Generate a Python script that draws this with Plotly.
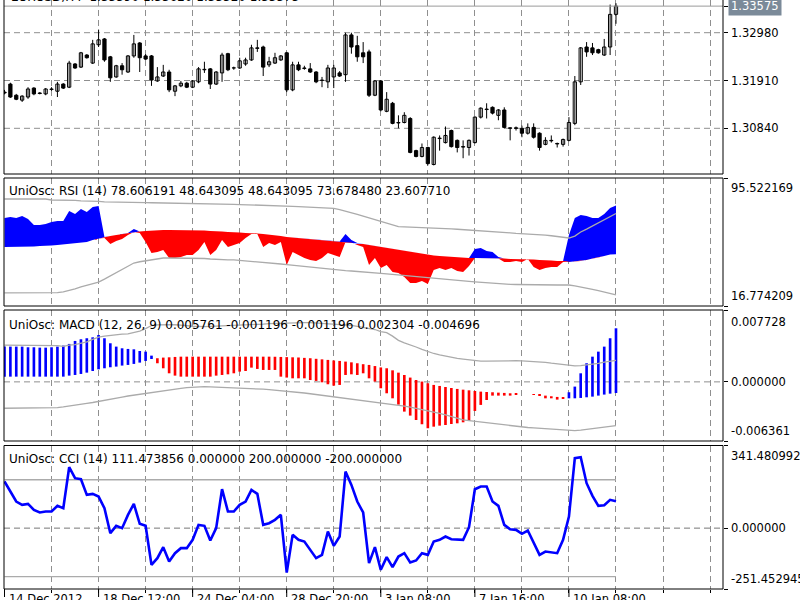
import plotly.graph_objects as go

BARS = list(range(105))

OPEN = [1.3165, 1.3183, 1.3158, 1.3147, 1.3154, 1.3174, 1.3163, 1.3161, 1.3171, 1.3167,
        1.3183, 1.3176, 1.3228, 1.3221, 1.3248, 1.3230, 1.3271, 1.3284, 1.3244, 1.3199,
        1.3224, 1.3210, 1.3246, 1.3275, 1.3246, 1.3246, 1.3190, 1.3201, 1.3210, 1.3167,
        1.3179, 1.3185, 1.3176, 1.3188, 1.3215, 1.3217, 1.3183, 1.3208, 1.3251, 1.3219,
        1.3219, 1.3228, 1.3237, 1.3264, 1.3266, 1.3226, 1.3230, 1.3237, 1.3253, 1.3170,
        1.3226, 1.3219, 1.3217, 1.3210, 1.3192, 1.3188, 1.3199, 1.3208, 1.3204, 1.3293,
        1.3269, 1.3253, 1.3255, 1.3158, 1.3190, 1.3122, 1.3140, 1.3097, 1.3097, 1.3106,
        1.3034, 1.3021, 1.3041, 1.3003, 1.3061, 1.3052, 1.3079, 1.3057, 1.3043, 1.3041,
        1.3052, 1.3109, 1.3127, 1.3131, 1.3113, 1.3125, 1.3085, 1.3085, 1.3084, 1.3073,
        1.3086, 1.3073, 1.3048, 1.3057, 1.3050, 1.3048, 1.3057, 1.3095, 1.3188, 1.3266,
        1.3264, 1.3260, 1.3248, 1.3266, 1.3339]
HIGH = [1.3170, 1.3186, 1.3161, 1.3158, 1.3176, 1.3176, 1.3165, 1.3174, 1.3176, 1.3188,
        1.3185, 1.3235, 1.3230, 1.3255, 1.3250, 1.3282, 1.3305, 1.3286, 1.3246, 1.3226,
        1.3230, 1.3248, 1.3293, 1.3277, 1.3250, 1.3248, 1.3221, 1.3226, 1.3215, 1.3181,
        1.3190, 1.3188, 1.3192, 1.3221, 1.3233, 1.3219, 1.3212, 1.3253, 1.3253, 1.3222,
        1.3242, 1.3242, 1.3271, 1.3282, 1.3269, 1.3244, 1.3253, 1.3248, 1.3255, 1.3233,
        1.3233, 1.3224, 1.3230, 1.3212, 1.3199, 1.3226, 1.3226, 1.3212, 1.3298, 1.3298,
        1.3291, 1.3277, 1.3260, 1.3192, 1.3192, 1.3165, 1.3143, 1.3113, 1.3120, 1.3109,
        1.3036, 1.3050, 1.3043, 1.3066, 1.3068, 1.3088, 1.3081, 1.3059, 1.3057, 1.3059,
        1.3111, 1.3131, 1.3140, 1.3133, 1.3127, 1.3131, 1.3086, 1.3088, 1.3090, 1.3095,
        1.3095, 1.3075, 1.3064, 1.3068, 1.3052, 1.3061, 1.3109, 1.3201, 1.3266, 1.3277,
        1.3275, 1.3262, 1.3284, 1.3361, 1.3364]
LOW = [1.3160, 1.3152, 1.3147, 1.3143, 1.3150, 1.3158, 1.3160, 1.3158, 1.3168, 1.3154,
       1.3172, 1.3174, 1.3217, 1.3219, 1.3240, 1.3228, 1.3266, 1.3233, 1.3188, 1.3197,
       1.3204, 1.3208, 1.3242, 1.3210, 1.3237, 1.3179, 1.3188, 1.3199, 1.3165, 1.3156,
       1.3176, 1.3174, 1.3174, 1.3185, 1.3208, 1.3172, 1.3181, 1.3188, 1.3212, 1.3215,
       1.3217, 1.3224, 1.3235, 1.3255, 1.3201, 1.3221, 1.3228, 1.3235, 1.3165, 1.3167,
       1.3212, 1.3215, 1.3208, 1.3185, 1.3176, 1.3174, 1.3174, 1.3199, 1.3188, 1.3251,
       1.3233, 1.3230, 1.3154, 1.3156, 1.3122, 1.3120, 1.3093, 1.3084, 1.3095, 1.3028,
       1.3019, 1.3019, 1.3001, 1.3001, 1.3034, 1.3050, 1.3041, 1.3030, 1.3017, 1.3023,
       1.3050, 1.3106, 1.3106, 1.3115, 1.3102, 1.3084, 1.3057, 1.3079, 1.3064, 1.3070,
       1.3061, 1.3034, 1.3046, 1.3052, 1.3041, 1.3043, 1.3055, 1.3091, 1.3181, 1.3244,
       1.3248, 1.3251, 1.3246, 1.3248, 1.3318]
CLOSE = [1.3163, 1.3154, 1.3149, 1.3156, 1.3172, 1.3161, 1.3162, 1.3172, 1.3172, 1.3183,
         1.3174, 1.3230, 1.3219, 1.3253, 1.3242, 1.3273, 1.3282, 1.3237, 1.3197, 1.3224,
         1.3215, 1.3246, 1.3273, 1.3242, 1.3239, 1.3192, 1.3199, 1.3210, 1.3170, 1.3179,
         1.3185, 1.3176, 1.3190, 1.3217, 1.3216, 1.3183, 1.3210, 1.3248, 1.3215, 1.3219,
         1.3235, 1.3237, 1.3264, 1.3263, 1.3221, 1.3233, 1.3242, 1.3246, 1.3170, 1.3226,
         1.3215, 1.3218, 1.3210, 1.3188, 1.3191, 1.3219, 1.3219, 1.3201, 1.3293, 1.3266,
         1.3244, 1.3244, 1.3158, 1.3190, 1.3125, 1.3149, 1.3095, 1.3096, 1.3113, 1.3030,
         1.3021, 1.3041, 1.3005, 1.3064, 1.3062, 1.3068, 1.3043, 1.3041, 1.3042, 1.3057,
         1.3109, 1.3129, 1.3126, 1.3118, 1.3125, 1.3086, 1.3084, 1.3084, 1.3073, 1.3086,
         1.3064, 1.3041, 1.3057, 1.3056, 1.3049, 1.3059, 1.3097, 1.3188, 1.3264, 1.3255,
         1.3253, 1.3253, 1.3266, 1.3339, 1.33575]

RSI = [70.9, 71.5, 70.9, 72.1, 70.3, 66.6, 66.6, 67.2, 68.5, 69.1,
       69.1, 75.2, 73.4, 76.5, 74.6, 77.7, 78.3, 58.6, 54.9, 56.8,
       58.0, 60.5, 64.1, 61.7, 56.1, 49.4, 50.0, 51.2, 46.3, 46.3,
       46.9, 48.2, 48.2, 51.2, 56.1, 48.2, 51.2, 57.4, 53.1, 54.3,
       55.5, 58.6, 61.1, 61.1, 53.1, 55.5, 54.3, 56.1, 42.0, 50.0,
       48.2, 46.3, 45.1, 44.5, 46.3, 49.4, 48.2, 46.9, 61.1, 57.4,
       54.3, 53.1, 42.0, 46.3, 40.2, 42.0, 37.7, 37.1, 34.6, 30.9,
       30.9, 32.2, 30.3, 38.9, 40.2, 38.9, 40.2, 38.3, 37.7, 41.4,
       51.8, 52.5, 50.6, 50.0, 46.9, 43.9, 43.9, 44.5, 43.9, 45.7,
       40.8, 38.9, 40.2, 40.8, 40.8, 43.9, 60.5, 70.9, 72.8, 72.1,
       70.9, 70.9, 73.4, 77.1, 78.606191]
RSI_MID = [53.1, 53.1, 53.1, 53.1, 53.1, 53.4, 53.7, 53.7, 54.0, 54.3,
           54.6, 54.9, 55.5, 55.8, 56.1, 57.4, 58.3, 59.2, 59.8, 60.5,
           61.1, 61.7, 62.3, 62.6, 62.9, 63.2, 63.2, 63.5, 63.5, 63.5,
           63.5, 63.5, 63.5, 63.2, 63.2, 62.9, 62.9, 62.6, 62.3, 62.3,
           62.0, 61.7, 61.7, 61.4, 61.1, 60.8, 60.5, 59.8, 59.2, 58.9,
           58.6, 58.3, 58.0, 57.7, 57.4, 57.1, 56.8, 56.5, 56.1, 55.8,
           55.5, 54.9, 54.3, 53.7, 53.1, 52.5, 51.8, 51.2, 50.6, 50.0,
           49.4, 48.8, 48.2, 47.9, 47.5, 47.2, 46.9, 46.6, 46.3, 46.3,
           46.3, 46.3, 46.0, 46.0, 46.0, 46.0, 45.7, 45.7, 45.7, 45.7,
           45.4, 45.1, 45.1, 44.8, 44.5, 44.5, 43.9, 44.2, 44.5, 45.1,
           46.0, 46.6, 47.5, 48.5, 48.643095]
RSI_UP = [82.6, 82.6, 82.6, 82.6, 82.6, 82.6, 82.6, 82.6, 82.0, 82.0,
          82.0, 81.7, 81.7, 81.4, 81.4, 81.1, 81.1, 80.8, 80.8, 80.8,
          80.7, 80.6, 80.6, 80.5, 80.4, 80.3, 80.2, 80.2, 80.1, 80.1,
          80.1, 80.0, 80.0, 79.9, 79.8, 79.7, 79.6, 79.5, 79.4, 79.3,
          79.2, 79.1, 79.0, 78.9, 78.9, 78.9, 78.7, 78.5, 78.3, 78.1,
          77.9, 77.7, 77.5, 77.3, 77.1, 76.9, 76.8, 76.1, 75.2, 74.2,
          73.1, 72.0, 70.9, 69.7, 68.5, 67.4, 66.5, 65.6, 65.4, 65.3,
          65.2, 65.1, 65.0, 64.8, 64.6, 64.4, 64.2, 64.0, 63.8, 63.5,
          63.3, 63.1, 62.9, 62.6, 62.3, 62.0, 61.8, 61.5, 61.3, 61.1,
          61.1, 60.8, 60.4, 60.0, 59.6, 59.2, 58.6, 59.8, 62.3, 64.1,
          66.0, 67.8, 69.7, 71.5, 73.678480]
RSI_DN = [24.8, 24.8, 24.8, 24.8, 24.8, 24.8, 24.8, 24.8, 24.8, 25.0,
          25.4, 26.2, 27.3, 28.5, 29.5, 30.5, 31.5, 33.3, 35.2, 37.1,
          39.1, 41.1, 43.2, 44.0, 44.6, 45.1, 45.7, 46.3, 46.3, 46.3,
          46.3, 46.3, 46.3, 46.3, 46.0, 45.7, 45.4, 45.1, 45.1, 45.1,
          44.8, 44.6, 44.4, 44.2, 43.9, 43.5, 43.0, 42.6, 42.2, 41.8,
          41.4, 41.0, 40.6, 40.2, 39.7, 39.3, 38.9, 38.7, 38.5, 38.3,
          38.1, 37.9, 37.7, 37.3, 36.9, 36.5, 36.2, 35.9, 35.6, 35.3,
          35.0, 34.7, 34.3, 34.0, 33.7, 33.3, 33.0, 32.6, 32.3, 31.9,
          31.6, 31.3, 31.0, 30.6, 30.3, 30.2, 30.1, 30.0, 29.9, 29.8,
          29.7, 29.7, 29.7, 29.7, 29.7, 29.7, 29.7, 29.1, 28.5, 27.8,
          27.0, 26.2, 25.4, 24.5, 23.607710]

MACD = [0.00379, 0.00379, 0.00379, 0.00379, 0.00372, 0.00372, 0.00368, 0.00368, 0.00372, 0.00379,
        0.00390, 0.00408, 0.00440, 0.00458, 0.00469, 0.00479, 0.00504, 0.00469, 0.00415, 0.00379,
        0.00361, 0.00354, 0.00350, 0.00332, 0.00325, 0.00282, 0.00200, 0.00146, 0.00092, 0.00067,
        0.00056, 0.00056, 0.00056, 0.00056, 0.00056, 0.00056, 0.00067, 0.00074, 0.00081, 0.00092,
        0.00110, 0.00117, 0.00153, 0.00139, 0.00128, 0.00128, 0.00128, 0.00056, 0.00046, 0.00038,
        0.00038, 0.00038, 0.00020, 0.00010, -0.00005, -0.00026, -0.00041, -0.00033, 0.00074, 0.00081,
        0.00074, 0.00092, 0.00038, 0.00003, -0.00069, -0.00123, -0.00177, -0.00245, -0.00320, -0.00363,
        -0.00410, -0.00456, -0.00499, -0.00482, -0.00471, -0.00464, -0.00453, -0.00446, -0.00435, -0.00421,
        -0.00313, -0.00248, -0.00195, -0.00148, -0.00148, -0.00148, -0.00148, -0.00141, -0.00130, -0.00134,
        -0.00141, -0.00143, -0.00177, -0.00177, -0.00191, -0.00175, -0.00112, -0.00051, 0.00092, 0.00200,
        0.00271, 0.00325, 0.00379, 0.00469, 0.005761]
MACD_SIG = [0.00056, 0.00056, 0.00056, 0.00056, 0.00056, 0.00056, 0.00056, 0.00056, 0.00056, 0.00056,
            0.00056, 0.00067, 0.00074, 0.00085, 0.00099, 0.00117, 0.00135, 0.00146, 0.00157, 0.00164,
            0.00175, 0.00182, 0.00193, 0.00207, 0.00225, 0.00246, 0.00254, 0.00261, 0.00264, 0.00268,
            0.00271, 0.00271, 0.00271, 0.00271, 0.00271, 0.00271, 0.00271, 0.00271, 0.00271, 0.00271,
            0.00271, 0.00271, 0.00271, 0.00271, 0.00271, 0.00271, 0.00270, 0.00268, 0.00266, 0.00264,
            0.00262, 0.00258, 0.00254, 0.00248, 0.00242, 0.00236, 0.00230, 0.00225, 0.00218, 0.00210,
            0.00200, 0.00190, 0.00182, 0.00170, 0.00155, 0.00146, 0.00124, 0.00099, 0.00074, 0.00046,
            0.00020, 0.00003, -0.00015, -0.00033, -0.00044, -0.00055, -0.00066, -0.00076, -0.00084, -0.00091,
            -0.00098, -0.00105, -0.00109, -0.00112, -0.00116, -0.00119, -0.00123, -0.00127, -0.00130, -0.00134,
            -0.00137, -0.00141, -0.00148, -0.00155, -0.00162, -0.00170, -0.00177, -0.00177, -0.00173, -0.00166,
            -0.00159, -0.00148, -0.00137, -0.00127, -0.001196]
MACD_UP = [0.00396, 0.00396, 0.00396, 0.00396, 0.00396, 0.00396, 0.00396, 0.00396, 0.00396, 0.00390,
           0.00382, 0.00396, 0.00400, 0.00412, 0.00430, 0.00456, 0.00482, 0.00492, 0.00502, 0.00504,
           0.00514, 0.00516, 0.00528, 0.00546, 0.00573, 0.00606, 0.00613, 0.00618, 0.00615, 0.00614,
           0.00612, 0.00604, 0.00598, 0.00593, 0.00594, 0.00596, 0.00598, 0.00600, 0.00602, 0.00604,
           0.00606, 0.00608, 0.00611, 0.00616, 0.00621, 0.00626, 0.00629, 0.00630, 0.00631, 0.00633,
           0.00636, 0.00636, 0.00636, 0.00632, 0.00628, 0.00624, 0.00620, 0.00619, 0.00614, 0.00607,
           0.00596, 0.00585, 0.00578, 0.00563, 0.00541, 0.00530, 0.00492, 0.00446, 0.00420, 0.00400,
           0.00375, 0.00350, 0.00325, 0.00305, 0.00290, 0.00275, 0.00262, 0.00252, 0.00245, 0.00236,
           0.00230, 0.00224, 0.00224, 0.00226, 0.00226, 0.00228, 0.00228, 0.00227, 0.00226, 0.00223,
           0.00222, 0.00219, 0.00210, 0.00201, 0.00192, 0.00182, 0.00174, 0.00171, 0.00174, 0.00180,
           0.00185, 0.00199, 0.00213, 0.00224, 0.002304]
MACD_DN = [-0.00284, -0.00284, -0.00284, -0.00284, -0.00284, -0.00284, -0.00284, -0.00284, -0.00284, -0.00278,
           -0.00270, -0.00262, -0.00252, -0.00242, -0.00232, -0.00222, -0.00212, -0.00200, -0.00188, -0.00176,
           -0.00164, -0.00152, -0.00142, -0.00132, -0.00123, -0.00114, -0.00105, -0.00096, -0.00087, -0.00078,
           -0.00070, -0.00062, -0.00056, -0.00051, -0.00052, -0.00054, -0.00056, -0.00058, -0.00060, -0.00062,
           -0.00064, -0.00066, -0.00069, -0.00074, -0.00079, -0.00084, -0.00089, -0.00094, -0.00099, -0.00105,
           -0.00112, -0.00120, -0.00128, -0.00136, -0.00144, -0.00152, -0.00160, -0.00169, -0.00178, -0.00187,
           -0.00196, -0.00205, -0.00214, -0.00223, -0.00231, -0.00238, -0.00244, -0.00248, -0.00260, -0.00272,
           -0.00284, -0.00296, -0.00308, -0.00320, -0.00338, -0.00356, -0.00374, -0.00392, -0.00410, -0.00418,
           -0.00426, -0.00434, -0.00442, -0.00450, -0.00458, -0.00466, -0.00474, -0.00481, -0.00486, -0.00491,
           -0.00496, -0.00501, -0.00506, -0.00511, -0.00516, -0.00522, -0.00528, -0.00525, -0.00520, -0.00512,
           -0.00503, -0.00495, -0.00487, -0.00478, -0.004696]

CCI = [192.6, 151.3, 110.0, 96.2, 100.4, 75.6, 64.6, 68.7, 68.7, 92.1,
       82.5, 251.8, 206.4, 202.2, 137.5, 141.7, 130.6, 82.5, -20.8, 9.5,
       -0.1, 54.9, 100.4, 17.8, 9.5, -151.6, -124.0, -78.6, -137.8, -103.4,
       -82.7, -82.7, -48.3, 13.6, 9.5, -51.1, -0.1, 160.9, 68.7, 68.7,
       96.2, 110.0, 158.2, 141.7, 13.6, 20.5, 34.3, 54.9, -183.3, -27.7,
       -48.3, -55.2, -89.6, -124.0, -110.3, -13.9, -73.1, -34.6, 233.9, 178.8,
       110.0, 64.6, -144.7, -78.6, -172.2, -119.9, -161.2, -117.2, -103.4, -141.9,
       -133.7, -103.4, -110.3, -55.2, -48.3, -34.6, -45.6, -48.3, -48.3, 4.0,
       160.9, 171.9, 171.9, 110.0, 92.1, 13.6, -4.3, -7.0, -23.5, -9.8,
       -62.1, -110.3, -96.5, -100.6, -103.4, -48.3, 48.0, 289.0, 293.1, 185.7,
       133.4, 92.1, 94.9, 116.9, 111.473856]
CCI_LEVELS = [200.0, -200.0]

PRICE_TICKS = [1.30840, 1.31910, 1.32980]
PRICE_LABELS = ["1.30840", "1.31910", "1.32980"]
LAST_PRICE = 1.33575
PRICE_RANGE = [1.29817, 1.33712]
RSI_RANGE = [16.774209, 95.522169]
MACD_RANGE = [-0.006361, 0.007728]
CCI_RANGE = [-251.452945, 341.480992]

GRID_BARS = list(range(8, 121, 8))
TIME_BARS = [0, 16, 32, 48, 64, 80, 96]
TIME_LABELS = ["14 Dec 2012", "18 Dec 12:00", "24 Dec 04:00", "28 Dec 20:00",
               "3 Jan 08:00", "7 Jan 16:00", "10 Jan 08:00"]

HEAD_MAIN = "EURUSD,H4  1.33590 1.33620 1.33520 1.33575"
HEAD_RSI = "UniOsc: RSI (14) 78.606191 48.643095 48.643095 73.678480 23.607710"
HEAD_MACD = "UniOsc: MACD (12, 26, 9) 0.005761 -0.001196 -0.001196 0.002304 -0.004696"
HEAD_CCI = "UniOsc: CCI (14) 111.473856 0.000000 200.000000 -200.000000"

# ---------------------------------------------------------------- layout constants
W, H = 800, 600
ML, MR = 4, 77
def py(px):
    return 1 - px / H

DOM_MAIN = [py(174), 1.0]
DOM_RSI = [py(306), py(178)]
DOM_MACD = [py(441), py(310)]
DOM_CCI = [py(589), py(445.5)]

FONT = "DejaVu Sans"
GRID = "#8f8f8f"
DASH = "6px,4px"
BAND = "#ababab"
BLUE = "#0000FF"
RED = "#FF0000"

fig = go.Figure()

# ---------------------------------------------------------------- candles
wx, wy = [], []
for i, h, l in zip(BARS, HIGH, LOW):
    wx += [i, i, None]
    wy += [l, h, None]
fig.add_trace(go.Scatter(x=wx, y=wy, mode="lines", line=dict(color="black", width=1),
                         xaxis="x", yaxis="y", hoverinfo="skip", showlegend=False))
body_base = [min(o, c) for o, c in zip(OPEN, CLOSE)]
body_h = [max(abs(c - o), 0.00003) for o, c in zip(OPEN, CLOSE)]
body_col = ["white" if c >= o else "black" for o, c in zip(OPEN, CLOSE)]
fig.add_trace(go.Bar(x=BARS, y=body_h, base=body_base, width=0.55,
                     marker=dict(color=body_col, line=dict(color="black", width=1)),
                     xaxis="x", yaxis="y", showlegend=False))

# ---------------------------------------------------------------- RSI
up_edge = [max(r, m) for r, m in zip(RSI, RSI_MID)]
dn_edge = [min(r, m) for r, m in zip(RSI, RSI_MID)]
fig.add_trace(go.Scatter(x=BARS, y=RSI_MID, mode="lines", line=dict(width=0, color=BLUE),
                         xaxis="x2", yaxis="y2", showlegend=False, hoverinfo="skip"))
fig.add_trace(go.Scatter(x=BARS, y=up_edge, mode="lines", line=dict(width=0, color=BLUE),
                         fill="tonexty", fillcolor=BLUE, xaxis="x2", yaxis="y2", showlegend=False))
fig.add_trace(go.Scatter(x=BARS, y=RSI_MID, mode="lines", line=dict(width=0, color=RED),
                         xaxis="x2", yaxis="y2", showlegend=False, hoverinfo="skip"))
fig.add_trace(go.Scatter(x=BARS, y=dn_edge, mode="lines", line=dict(width=0, color=RED),
                         fill="tonexty", fillcolor=RED, xaxis="x2", yaxis="y2", showlegend=False))
for band in (RSI_UP, RSI_DN):
    fig.add_trace(go.Scatter(x=BARS, y=band, mode="lines", line=dict(color=BAND, width=1.3),
                             xaxis="x2", yaxis="y2", showlegend=False))

# ---------------------------------------------------------------- MACD
hist = [m - s for m, s in zip(MACD, MACD_SIG)]
hcol = [BLUE if d >= 0 else RED for d in hist]
fig.add_trace(go.Bar(x=BARS, y=hist, base=MACD_SIG, width=0.45,
                     marker=dict(color=hcol, line=dict(width=0)),
                     xaxis="x3", yaxis="y3", showlegend=False))
for band in (MACD_UP, MACD_DN):
    fig.add_trace(go.Scatter(x=BARS, y=band, mode="lines", line=dict(color=BAND, width=1.3),
                             xaxis="x3", yaxis="y3", showlegend=False))

# ---------------------------------------------------------------- CCI
for lv in CCI_LEVELS:
    fig.add_trace(go.Scatter(x=BARS, y=[lv] * len(BARS), mode="lines",
                             line=dict(color=BAND, width=1.3),
                             xaxis="x4", yaxis="y4", showlegend=False))
fig.add_trace(go.Scatter(x=BARS, y=CCI, mode="lines", line=dict(color=BLUE, width=2.6),
                         xaxis="x4", yaxis="y4", showlegend=False))

# ---------------------------------------------------------------- axes
XR = [-0.085, 122.2]
def xax(anchor, **kw):
    d = dict(range=XR, domain=[0, 1], anchor=anchor, tickvals=GRID_BARS,
             showticklabels=False, showgrid=True, gridcolor=GRID, griddash=DASH,
             gridwidth=1, zeroline=False, showline=False, ticks="", fixedrange=True)
    d.update(kw)
    return d

def yax(anchor, dom, rng, tv, grid):
    return dict(domain=dom, range=rng, anchor=anchor, side="right", tickvals=tv,
                showticklabels=False, ticks="outside", ticklen=4, tickcolor="black",
                showgrid=grid, gridcolor=GRID, griddash=DASH, gridwidth=1,
                zeroline=False, showline=False, fixedrange=True)

fig.update_layout(
    width=W, height=H,
    margin=dict(l=ML, r=MR, t=0, b=0),
    paper_bgcolor="white", plot_bgcolor="white",
    barmode="overlay", showlegend=False,
    font=dict(family=FONT, size=11.5, color="black"),
    xaxis=xax("y"),
    xaxis2=xax("y2", matches="x"),
    xaxis3=xax("y3", matches="x"),
    xaxis4=xax("y4", matches="x", ticks="outside", ticklen=3, tickcolor="black"),
    yaxis=yax("x", DOM_MAIN, PRICE_RANGE, PRICE_TICKS + [LAST_PRICE], False),
    yaxis2=yax("x2", DOM_RSI, RSI_RANGE, RSI_RANGE, False),
    yaxis3=yax("x3", DOM_MACD, MACD_RANGE, [MACD_RANGE[0], 0, MACD_RANGE[1]], False),
    yaxis4=yax("x4", DOM_CCI, CCI_RANGE, [CCI_RANGE[0], 0, CCI_RANGE[1]], False),
)

shapes = []
# horizontal dashed grid / zero lines
for p in PRICE_TICKS:
    shapes.append(dict(type="line", xref="paper", x0=0, x1=1, yref="y", y0=p, y1=p,
                       line=dict(color=GRID, width=1, dash=DASH), layer="below"))
shapes.append(dict(type="line", xref="paper", x0=0, x1=1, yref="y3", y0=0, y1=0,
                   line=dict(color=GRID, width=1, dash=DASH), layer="below"))
shapes.append(dict(type="line", xref="paper", x0=0, x1=1, yref="y4", y0=0, y1=0,
                   line=dict(color="#777777", width=1, dash=DASH), layer="below"))
# bid line
shapes.append(dict(type="line", xref="paper", x0=0, x1=1, yref="y", y0=LAST_PRICE, y1=LAST_PRICE,
                   line=dict(color="#9a9a9a", width=1), layer="above"))
# panel borders
for dom in (DOM_RSI, DOM_MACD, DOM_CCI):
    shapes.append(dict(type="rect", xref="paper", yref="paper", x0=0, x1=1, y0=dom[0], y1=dom[1],
                       line=dict(color="black", width=1), fillcolor="rgba(0,0,0,0)", layer="above"))
shapes.append(dict(type="rect", xref="paper", yref="paper", x0=0, x1=1, y0=DOM_MAIN[0], y1=1.05,
                   line=dict(color="black", width=1), fillcolor="rgba(0,0,0,0)", layer="above"))
# long time ticks
for b in TIME_BARS:
    shapes.append(dict(type="line", xref="x4", x0=b, x1=b, yref="paper", y0=py(589), y1=py(597),
                       line=dict(color="black", width=1)))
fig.update_layout(shapes=shapes)

ann = []
def head(text, top, shift):
    ann.append(dict(text=text, xref="paper", yref="paper", x=0, y=top, xanchor="left",
                    yanchor="top", xshift=3, yshift=shift, showarrow=False,
                    font=dict(family=FONT, size=12, color="black")))
ann.append(dict(text=HEAD_MAIN, xref="paper", yref="paper", x=0, y=1, xanchor="left",
                yanchor="bottom", xshift=5, yshift=-6, showarrow=False,
                font=dict(family=FONT, size=12, color="black")))
head(HEAD_RSI, DOM_RSI[1], -4)
head(HEAD_MACD, DOM_MACD[1], -6)
head(HEAD_CCI, DOM_CCI[1], -4)

def rlabel(text, yref, y, anchor, shift=0):
    ann.append(dict(text=text, xref="paper", yref=yref, x=1, y=y, xanchor="left",
                    yanchor=anchor, xshift=6, yshift=shift, showarrow=False,
                    font=dict(family=FONT, size=11.5, color="black")))
for p, t in zip(PRICE_TICKS, PRICE_LABELS):
    rlabel(t, "y", p, "middle")
rlabel(f"{RSI_RANGE[1]:.6f}", "y2", RSI_RANGE[1], "top", -1)
rlabel(f"{RSI_RANGE[0]:.6f}", "y2", RSI_RANGE[0], "bottom", 1)
rlabel(f"{MACD_RANGE[1]:.6f}", "y3", MACD_RANGE[1], "top", -3)
rlabel(f"{0:.6f}", "y3", 0, "middle")
rlabel(f"{MACD_RANGE[0]:.6f}", "y3", MACD_RANGE[0], "bottom", 1)
rlabel(f"{CCI_RANGE[1]:.6f}", "y4", CCI_RANGE[1], "top", -1)
rlabel(f"{0:.6f}", "y4", 0, "middle")
rlabel(f"{CCI_RANGE[0]:.6f}", "y4", CCI_RANGE[0], "bottom", 1)
ann.append(dict(text=f"{LAST_PRICE:.5f}", xref="paper", yref="y", x=1, y=LAST_PRICE,
                xanchor="left", yanchor="middle", xshift=5, showarrow=False,
                bgcolor="#7b8a99", borderpad=2,
                font=dict(family=FONT, size=11.5, color="white")))
for b, t in zip(TIME_BARS, TIME_LABELS):
    ann.append(dict(text=t, xref="x4", yref="paper", x=b, y=py(590), xanchor="left",
                    yanchor="top", xshift=2, showarrow=False,
                    font=dict(family=FONT, size=11.5, color="black")))
fig.update_layout(annotations=ann)

fig.write_html("out.html")
